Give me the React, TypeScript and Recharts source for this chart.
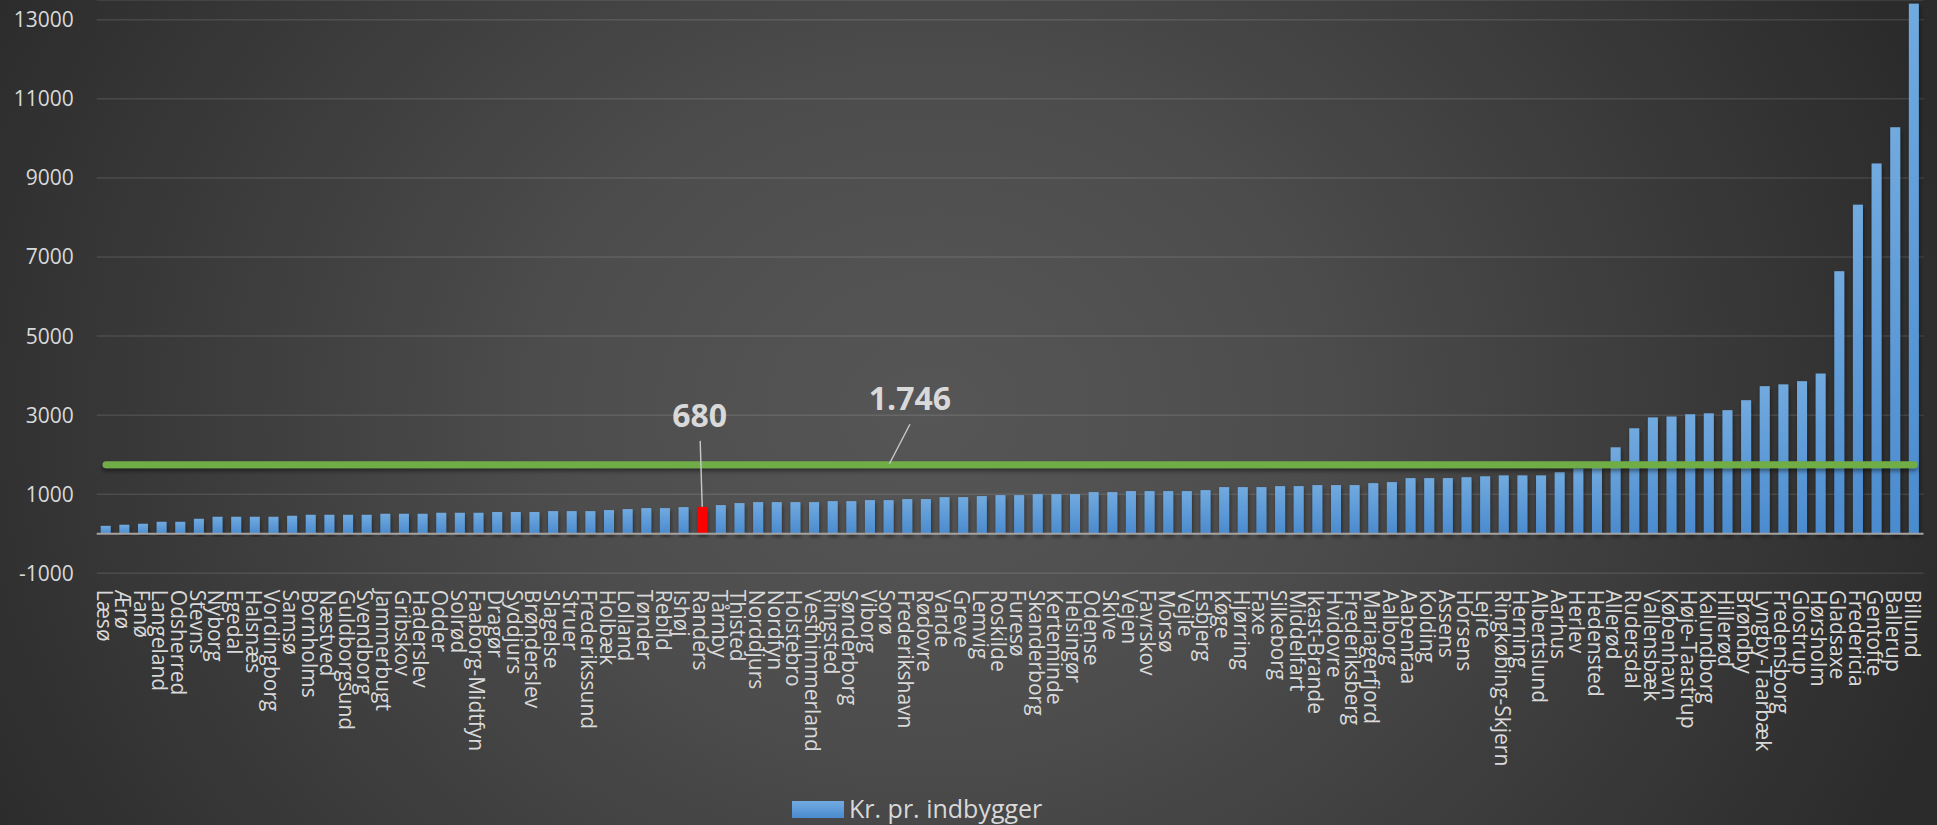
import React from 'react';
import {
  ComposedChart,
  Bar,
  Line,
  XAxis,
  YAxis,
  CartesianGrid,
  ReferenceLine,
  Legend,
  LabelList,
} from 'recharts';

const categories = [
  'Læsø', 'Ærø', 'Fanø', 'Langeland', 'Odsherred', 'Stevns', 'Nyborg', 'Egedal', 'Halsnæs', 'Vordingborg',
  'Samsø', 'Bornholms', 'Næstved', 'Guldborgsund', 'Svendborg', 'Jammerbugt', 'Gribskov', 'Haderslev', 'Odder', 'Solrød',
  'Faaborg-Midtfyn', 'Dragør', 'Syddjurs', 'Brønderslev', 'Slagelse', 'Struer', 'Frederikssund', 'Holbæk', 'Lolland', 'Tønder',
  'Rebild', 'Ishøj', 'Randers', 'Tårnby', 'Thisted', 'Norddjurs', 'Nordfyn', 'Holstebro', 'Vesthimmerland', 'Ringsted',
  'Sønderborg', 'Viborg', 'Sorø', 'Frederikshavn', 'Rødovre', 'Varde', 'Greve', 'Lemvig', 'Roskilde', 'Furesø',
  'Skanderborg', 'Kerteminde', 'Helsingør', 'Odense', 'Skive', 'Vejen', 'Favrskov', 'Morsø', 'Vejle', 'Esbjerg',
  'Køge', 'Hjørring', 'Faxe', 'Silkeborg', 'Middelfart', 'Ikast-Brande', 'Hvidovre', 'Frederiksberg', 'Mariagerfjord', 'Aalborg',
  'Aabenraa', 'Kolding', 'Assens', 'Horsens', 'Lejre', 'Ringkøbing-Skjern', 'Herning', 'Albertslund', 'Aarhus', 'Herlev',
  'Hedensted', 'Allerød', 'Rudersdal', 'Vallensbæk', 'København', 'Høje-Taastrup', 'Kalundborg', 'Hillerød', 'Brøndby', 'Lyngby-Taarbæk',
  'Fredensborg', 'Glostrup', 'Hørsholm', 'Gladsaxe', 'Fredericia', 'Gentofte', 'Ballerup', 'Billund',
];

const values = [
  200, 228, 253, 303, 303, 379, 430, 430, 430, 430,
  455, 480, 480, 480, 480, 506, 506, 506, 531, 531,
  531, 550, 550, 550, 573, 573, 573, 599, 624, 649,
  649, 674, 680, 725, 776, 801, 801, 801, 801, 826,
  826, 851, 851, 877, 877, 927, 927, 953, 978, 978,
  1003, 1003, 1003, 1054, 1054, 1079, 1079, 1079, 1079, 1104,
  1180, 1180, 1180, 1205, 1205, 1231, 1231, 1231, 1281, 1307,
  1408, 1408, 1408, 1431, 1454, 1477, 1477, 1477, 1557, 1650,
  1690, 2187, 2668, 2943, 2966, 3023, 3046, 3126, 3378, 3733,
  3779, 3859, 4053, 6641, 8324, 9366, 10282, 13408,
];

const averageValue = 1746;
const yTicks = [-1000, 1000, 3000, 5000, 7000, 9000, 11000, 13000];
const yDomain = [-1000, 13500];
const seriesName = 'Kr. pr. indbygger';
const highlightCategory = 'Randers';
const averageLabelCategory = 'Sorø';

const data = categories.map((name, i) => ({
  name,
  value: values[i],
  average: averageValue,
}));

const FONT = '"Open Sans", sans-serif';
const TEXT = '#d9d9d9';

const fmt = (v: number) =>
  String(Math.round(v)).replace(/\B(?=(\d{3})+(?!\d))/g, '.');

const XTick = (p: any) => {
  const { x, y, payload } = p;
  return (
    <text
      transform={`translate(${x - 9.5},${y + 16.5}) rotate(90)`}
      fill={TEXT}
      fontSize={21}
      fontFamily={FONT}
      textAnchor="start"
    >
      {payload.value}
    </text>
  );
};

const BarShape = (p: any) => {
  const { x, y, width, height, payload } = p;
  if (!width || !height) return <g />;
  const isHi = payload && payload.name === highlightCategory;
  return (
    <rect
      x={x}
      y={y}
      width={width}
      height={height}
      fill={isHi ? '#ff0000' : 'url(#barGrad)'}
      filter="url(#barShadow)"
    />
  );
};

const BarAnnotation = (p: any) => {
  const vb = p.viewBox || p;
  const idx = p.index;
  if (idx === undefined || categories[idx] !== highlightCategory) return null;
  const cx = vb.x + vb.width / 2;
  const top = vb.y;
  return (
    <g>
      <line x1={cx} y1={top} x2={cx - 2} y2={top - 66} stroke="#c8c8c8" strokeWidth={1.4} />
      <text
        x={cx - 2.5}
        y={top - 80}
        textAnchor="middle"
        fill={TEXT}
        fontSize={32}
        fontWeight={700}
        fontFamily={FONT}
      >
        {fmt(p.value)}
      </text>
    </g>
  );
};

const AverageAnnotation = (p: any) => {
  const vb = p.viewBox || p;
  const idx = p.index;
  if (idx === undefined || categories[idx] !== averageLabelCategory) return null;
  const x = vb.x;
  const y = vb.y;
  return (
    <g>
      <line x1={x + 0.5} y1={y - 1} x2={x + 21} y2={y - 40.5} stroke="#c8c8c8" strokeWidth={1.4} />
      <text
        x={x + 21}
        y={y - 55}
        textAnchor="middle"
        fill={TEXT}
        fontSize={32}
        fontWeight={700}
        fontFamily={FONT}
      >
        {fmt(p.value)}
      </text>
    </g>
  );
};

const LegendContent = () => (
  <svg width={280} height={34} style={{ display: 'block', overflow: 'visible' }}>
    <defs>
      <linearGradient id="legendGrad" x1="0" y1="0" x2="0" y2="1">
        <stop offset="0%" stopColor="#71aadf" />
        <stop offset="100%" stopColor="#4a8bcf" />
      </linearGradient>
    </defs>
    <rect x={0} y={6} width={52} height={17} fill="url(#legendGrad)" />
    <text x={57} y={23} fontSize={25} fill={TEXT} fontFamily={FONT}>
      {seriesName}
    </text>
  </svg>
);

export default function App() {
  return (
    <div
      style={{
        position: 'absolute',
        left: 0,
        top: 0,
        width: 1937,
        height: 825,
        overflow: 'hidden',
        background:
          'radial-gradient(ellipse 55% 110% at 48% 50%, #565656 0%, #4d4d4d 35%, #2b2b2b 100%)',
      }}
    >
      <ComposedChart
        width={1937}
        height={825}
        data={data}
        margin={{ top: 0, right: 13.5, bottom: 0, left: 0 }}
        barCategoryGap={0}
        style={{ fontFamily: FONT }}
      >
        <defs>
          <linearGradient id="barGrad" x1="0" y1="0" x2="0" y2="1">
            <stop offset="0%" stopColor="#71aadf" />
            <stop offset="100%" stopColor="#4a8bcf" />
          </linearGradient>
          <filter id="barShadow" x="-50%" y="-5%" width="200%" height="120%">
            <feDropShadow dx="1" dy="3" stdDeviation="2" floodColor="#000" floodOpacity="0.45" />
          </filter>
          <filter id="lineShadow" filterUnits="userSpaceOnUse" x="0" y="0" width="1937" height="825">
            <feDropShadow dx="0" dy="3" stdDeviation="2" floodColor="#000" floodOpacity="0.45" />
          </filter>
        </defs>
        <CartesianGrid vertical={false} stroke="rgba(255,255,255,0.11)" strokeWidth={1.5} />
        <XAxis
          dataKey="name"
          interval={0}
          height={251.7}
          axisLine={false}
          tickLine={false}
          tickSize={0}
          tickMargin={0}
          tick={(props: any) => <XTick {...props} />}
        />
        <YAxis
          type="number"
          domain={yDomain}
          ticks={yTicks}
          allowDataOverflow
          width={96.7}
          axisLine={false}
          tickLine={false}
          tickSize={0}
          tickMargin={23}
          tick={{ fill: TEXT, fontSize: 21, fontFamily: FONT }}
        />
        <Legend
          verticalAlign="middle"
          align="center"
          content={() => <LegendContent />}
          wrapperStyle={{ left: 792, top: 795, width: 280, height: 34 }}
        />
        <Bar
          dataKey="value"
          name={seriesName}
          barSize={10}
          isAnimationActive={false}
          shape={(props: any) => <BarShape {...props} />}
        >
          <LabelList dataKey="value" content={(props: any) => <BarAnnotation {...props} />} />
        </Bar>
        <ReferenceLine y={0} stroke="#a3a3a3" strokeWidth={2} />
        <Line
          dataKey="average"
          stroke="#70ad47"
          strokeWidth={7}
          strokeLinecap="round"
          dot={false}
          activeDot={false}
          legendType="none"
          isAnimationActive={false}
          filter="url(#lineShadow)"
        >
          <LabelList dataKey="average" content={(props: any) => <AverageAnnotation {...props} />} />
        </Line>
      </ComposedChart>
    </div>
  );
}
